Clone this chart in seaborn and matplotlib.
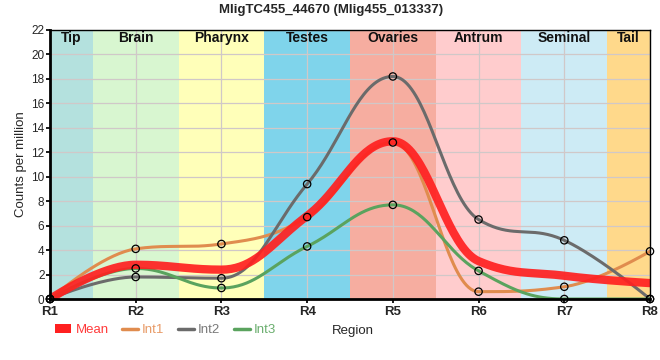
import numpy as np
import pandas as pd
import matplotlib
matplotlib.use("Agg")
import matplotlib.pyplot as plt
import seaborn as sns
from matplotlib.lines import Line2D
from matplotlib.patches import Patch

regions = ["R1", "R2", "R3", "R4", "R5", "R6", "R7", "R8"]
band_labels = ["Tip", "Brain", "Pharynx", "Testes", "Ovaries", "Antrum", "Seminal", "Tail"]
band_colors = ["#b4e1de", "#d8f6d0", "#ffffb9", "#7fd4eb", "#f6ada0", "#ffcccd", "#cdebf5", "#ffd98b"]

mean_vals = [0.0, 2.8, 2.4, 6.8, 12.9, 3.1, 1.9, 1.3]
int1_vals = [0.0, 4.1, 4.5, 6.7, 12.8, 0.6, 1.0, 3.9]
int2_vals = [0.0, 1.8, 1.7, 9.4, 18.2, 6.5, 4.8, 0.0]
int3_vals = [0.0, 2.5, 0.9, 4.3, 7.7, 2.3, 0.0, 0.0]

series_names = ["Mean", "Int1", "Int2", "Int3"]
series_colors = {"Mean": "#ff2020", "Int1": "#e08c4e", "Int2": "#6b6b6b", "Int3": "#5aa35e"}
text_colors = {"Mean": "#ff3a3a", "Int1": "#e89a66", "Int2": "#7a7a7a", "Int3": "#6aae6e"}


def spline_curve(xs, ys, n=40, smoothing=1.5):
    """Render points as a smooth spline with control points at 1/(smoothing+1) of each gap."""
    xs = np.asarray(xs, float)
    ys = np.asarray(ys, float)
    m = len(xs)
    denom = smoothing + 1
    lc = [(xs[i], ys[i]) for i in range(m)]
    rc = [(xs[i], ys[i]) for i in range(m)]
    for i in range(1, m - 1):
        x, y = xs[i], ys[i]
        lx, ly = xs[i - 1], ys[i - 1]
        nx, ny = xs[i + 1], ys[i + 1]
        lcx = (smoothing * x + lx) / denom
        lcy = (smoothing * y + ly) / denom
        rcx = (smoothing * x + nx) / denom
        rcy = (smoothing * y + ny) / denom
        corr = ((rcy - lcy) * (rcx - x)) / (rcx - lcx) + y - rcy
        lcy += corr
        rcy += corr
        if lcy > ly and lcy > y:
            lcy = max(ly, y)
            rcy = 2 * y - lcy
        elif lcy < ly and lcy < y:
            lcy = min(ly, y)
            rcy = 2 * y - lcy
        if rcy > ny and rcy > y:
            rcy = max(ny, y)
            lcy = 2 * y - rcy
        elif rcy < ny and rcy < y:
            rcy = min(ny, y)
            lcy = 2 * y - rcy
        lc[i] = (lcx, lcy)
        rc[i] = (rcx, rcy)
    ox, oy = [], []
    for i in range(m - 1):
        u = np.linspace(0, 1, n, endpoint=(i == m - 2))
        P0 = (xs[i], ys[i])
        P1 = rc[i]
        P2 = lc[i + 1]
        P3 = (xs[i + 1], ys[i + 1])
        b0 = (1 - u) ** 3
        b1 = 3 * (1 - u) ** 2 * u
        b2 = 3 * (1 - u) * u ** 2
        b3 = u ** 3
        ox.extend(b0 * P0[0] + b1 * P1[0] + b2 * P2[0] + b3 * P3[0])
        oy.extend(b0 * P0[1] + b1 * P1[1] + b2 * P2[1] + b3 * P3[1])
    return np.array(ox), np.array(oy)


xpos = np.arange(len(regions))
data = {"Mean": mean_vals, "Int1": int1_vals, "Int2": int2_vals, "Int3": int3_vals}

rows = []
for name in series_names:
    cx, cy = spline_curve(xpos, data[name])
    for a, b in zip(cx, cy):
        rows.append({"x": a, "y": b, "series": name})
curves = pd.DataFrame(rows)
pts = pd.DataFrame([{"x": i, "y": v, "series": name}
                    for name in ["Int1", "Int2", "Int3"] for i, v in enumerate(data[name])])

sns.set_theme(style="white")
plt.rcParams["font.family"] = ["Liberation Sans", "DejaVu Sans"]

fig = plt.figure(figsize=(6.6, 3.6), dpi=100)
ax = fig.add_axes([50 / 660, 1 - 299 / 360, 600 / 660, 269 / 360])

# background bands
edges = [0, 0.5, 1.5, 2.5, 3.5, 4.5, 5.5, 6.5, 7]
for i, (lab, col) in enumerate(zip(band_labels, band_colors)):
    ax.axvspan(edges[i], edges[i + 1], color=col, lw=0, zorder=0)
    ax.text((edges[i] + edges[i + 1]) / 2, 21.95, lab, ha="center", va="top",
            fontsize=10, fontweight="bold", color="#111111", zorder=6)

ax.set_xlim(0, 7)
ax.set_ylim(0, 22)
ax.set_yticks(np.arange(0, 23, 2))
ax.set_xticks(xpos)
ax.set_xticklabels(regions, fontweight="bold", fontsize=9.5)
ax.tick_params(axis="y", labelsize=8.5, length=3, pad=1, left=True, color="black")
ax.tick_params(axis="x", length=3, pad=2, bottom=True, color="black")
ax.grid(True, color="#d0c8c8", lw=0.9, zorder=1)
for gl in ax.get_xgridlines() + ax.get_ygridlines():
    gl.set_zorder(1)

# Int lines
sub = curves[curves.series != "Mean"]
sns.lineplot(data=sub, x="x", y="y", hue="series", palette=series_colors, sort=False,
             estimator=None, lw=2.2, ax=ax, legend=False, zorder=3)
sns.lineplot(data=curves[curves.series == "Mean"], x="x", y="y", color=series_colors["Mean"],
             sort=False, estimator=None, lw=6, alpha=0.92, ax=ax, legend=False, zorder=4)
sns.scatterplot(data=pts, x="x", y="y", s=28, facecolor="none", edgecolor="black",
                linewidth=0.9, ax=ax, legend=False, zorder=5, clip_on=False)

for sp in ["left", "bottom"]:
    ax.spines[sp].set_linewidth(2)
    ax.spines[sp].set_color("black")
for sp in ["top", "right"]:
    ax.spines[sp].set_linewidth(1)
    ax.spines[sp].set_color("black")
for sp in ax.spines.values():
    sp.set_zorder(7)

ax.set_xlabel("")
ax.set_ylabel("Counts per million", fontsize=9.5, labelpad=3)
fig.text(353 / 660, 1 - 331 / 360, "Region", ha="center", va="center", fontsize=9.5)
fig.text(331 / 660, 1 - 10 / 360, "MligTC455_44670 (Mlig455_013337)", ha="center", va="center",
         fontsize=9.5, fontweight="bold")

handles = [Patch(facecolor=series_colors["Mean"], edgecolor="none")] + \
          [Line2D([0], [0], color=series_colors[n], lw=2.5) for n in ["Int1", "Int2", "Int3"]]
leg = fig.legend(handles, series_names, loc="center left", bbox_to_anchor=(55 / 660, 1 - 330 / 360),
                 ncol=4, frameon=False, fontsize=9.5, handlelength=1.2, handletextpad=0.35,
                 columnspacing=1.0, borderaxespad=0, borderpad=0)
for txt, n in zip(leg.get_texts(), series_names):
    txt.set_color(text_colors[n])

fig.savefig("out.png", dpi=100)
